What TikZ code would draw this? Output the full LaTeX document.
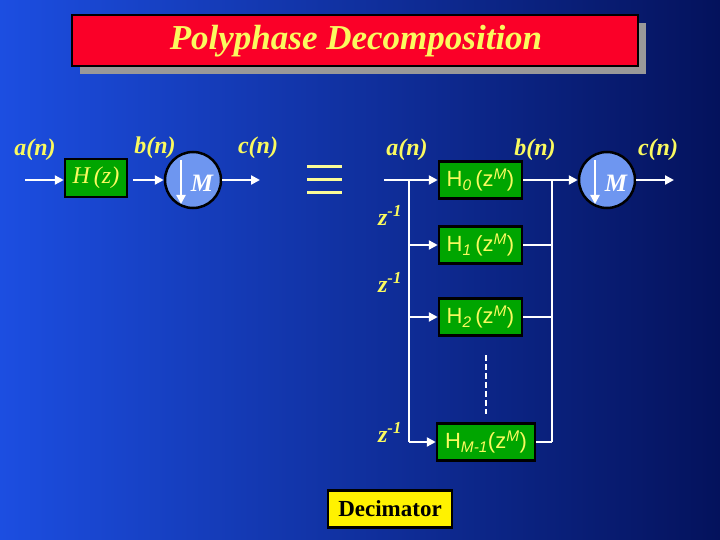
\documentclass[tikz,border=0pt]{standalone}
\usepackage{fontspec}
\setmainfont{Liberation Serif}
\newfontfamily\hfont{Liberation Sans}
\usetikzlibrary{arrows.meta,positioning}
\definecolor{sigyellow}{RGB}{250,250,95}
\definecolor{filtgreen}{RGB}{0,165,0}
\definecolor{decblue}{RGB}{110,150,240}
\definecolor{titlered}{RGB}{250,0,40}
\definecolor{bgleft}{RGB}{28,78,225}
\definecolor{bgright}{RGB}{4,18,92}

\begin{document}
\begin{tikzpicture}[x=1pt,y=-1pt,
    sig/.style={white,line width=2.5pt,-{Triangle[length=9pt,width=9pt]}},
    wire/.style={white,line width=2.5pt},
    lbl/.style={text=sigyellow,inner sep=0pt,font=\fontsize{24}{26}\selectfont\bfseries\itshape},
    filt/.style={draw=black,line width=2.5pt,fill=filtgreen,minimum width=83pt,minimum height=37pt,inner sep=0pt,text=sigyellow,font=\fontsize{22}{24}\selectfont\hfont},
    dec/.style={circle,draw=black,line width=2.5pt,fill=decblue,minimum size=56pt,inner sep=0pt}]
  \useasboundingbox (0,0) rectangle (720,540);
  \shade[left color=bgleft,right color=bgright] (0,0) rectangle (720,540);
  % title
  \fill[black!40] (80,23) rectangle (646,74);
  \draw[line width=2.5pt,fill=titlered] (72,15) rectangle (638,66);
  \node[text=sigyellow,font=\fontsize{35}{38}\selectfont\bfseries\itshape] (title) at (356,41) {Polyphase Decomposition};
  % single branch decimator
  \coordinate (ain1) at (25,180);
  \node[filt,minimum width=62pt,minimum height=38pt,font=\fontsize{24}{26}\selectfont\itshape] (hz) at (96,178) {H\,(z)};
  \node[dec] (m1) at (193,180) {};
  \node[text=white,font=\fontsize{25}{27}\selectfont\bfseries\itshape] (m1txt) at ([xshift=9pt,yshift=-3pt]m1.center) {M};
  \coordinate (cout1) at (260,180);
  \draw[sig] (ain1) -- (hz.west |- ain1);
  \draw[sig,shorten <=5pt] (hz.east |- ain1) -- (m1.west);
  \draw[sig] (m1.east) -- (cout1);
  \draw[sig] ([xshift=-12pt,yshift=20pt]m1.center) -- ([xshift=-12pt,yshift=-24pt]m1.center);
  \node[lbl] (a1) at (35,150) {a(n)};
  \node[lbl] (b1) at (155,148) {b(n)};
  \node[lbl] (c1) at (258,148) {c(n)};
  % equivalence
  \foreach \yy in {167,180,193}
    \draw[line width=3pt,sigyellow!65!white] (307,\yy) -- (342,\yy);
  % polyphase structure
  \coordinate (ain2) at (384,180);
  \coordinate (tap) at (409,180);
  \coordinate (join) at (552,180);
  \node[filt] (h0) at (480.5,180) {H\textsubscript{\itshape 0}\,(z\textsuperscript{\itshape M})};
  \node[filt] (h1) at (480.5,245) {H\textsubscript{\itshape 1}\,(z\textsuperscript{\itshape M})};
  \node[filt] (h2) at (480.5,317) {H\textsubscript{\itshape 2}\,(z\textsuperscript{\itshape M})};
  \node[filt,minimum width=98pt] (hm) at (486,442) {H\textsubscript{\itshape M-1}(z\textsuperscript{\itshape M})};
  \node[dec] (m2) at (607,180) {};
  \node[text=white,font=\fontsize{25}{27}\selectfont\bfseries\itshape] (m2txt) at ([xshift=9pt,yshift=-3pt]m2.center) {M};
  \coordinate (cout2) at (674,180);
  \draw[sig] (ain2) -- (h0.west);
  \draw[wire] (tap) -- (tap |- hm);
  \draw[sig] (tap |- h1) -- (h1.west);
  \draw[sig] (tap |- h2) -- (h2.west);
  \draw[sig] (tap |- hm) -- (hm.west);
  \draw[wire] (h1.east) -- (join |- h1);
  \draw[wire] (h2.east) -- (join |- h2);
  \draw[wire] (hm.east) -- (join |- hm);
  \draw[wire] (join) -- (join |- hm);
  \draw[sig] (h0.east) -- (m2.west);
  \draw[sig] (m2.east) -- (cout2);
  \draw[sig] ([xshift=-12pt,yshift=20pt]m2.center) -- ([xshift=-12pt,yshift=-24pt]m2.center);
  \draw[wire,dash pattern=on 6pt off 3pt] (486,355) -- (486,414);
  \node[lbl] (a2) at (407,150) {a(n)};
  \node[lbl] (b2) at (535,150) {b(n)};
  \node[lbl] (c2) at (658,150) {c(n)};
  \node[lbl] (d1) at (390,215) {z\textsuperscript{-1}};
  \node[lbl] (d2) at (390,282) {z\textsuperscript{-1}};
  \node[lbl] (d3) at (390,432) {z\textsuperscript{-1}};
  % caption box
  \node[draw=black,line width=2.5pt,fill=yellow,minimum width=124pt,minimum height=37pt,inner sep=0pt,font=\fontsize{23}{25}\selectfont\bfseries] (decim) at (390,509) {Decimator};
\end{tikzpicture}
\end{document}
